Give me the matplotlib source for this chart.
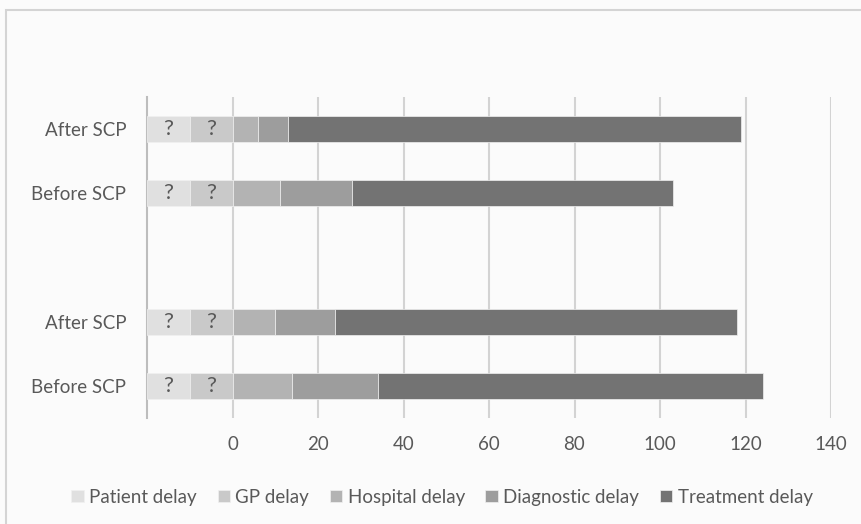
import matplotlib.pyplot as plt
from matplotlib.patches import Rectangle

# Delay components (days), rows from bottom to top; row 2 is an empty spacer
rows = ['Before SCP', 'After SCP', '', 'Before SCP', 'After SCP']
bar_rows = [0, 1, 3, 4]
patient_delay = [10, 10, 10, 10]      # unknown, drawn as fixed placeholders
gp_delay = [10, 10, 10, 10]           # unknown, drawn as fixed placeholders
hospital_delay = [14, 10, 11, 6]
diagnostic_delay = [20, 14, 17, 7]
treatment_delay = [90, 94, 75, 106]
unknown_label = '?'

series = ['Patient delay', 'GP delay', 'Hospital delay', 'Diagnostic delay', 'Treatment delay']
colors = ['#e0e0e0', '#c9c9c9', '#b3b3b3', '#9d9d9d', '#737373']
start = -20

plt.rcParams['font.family'] = ['Lato', 'DejaVu Sans']
text_color = '#595959'

fig = plt.figure(figsize=(8.62, 5.24), dpi=100, facecolor='#fbfbfb')
ax = fig.add_axes([147 / 862, 1 - 418 / 524, 684 / 862, 321 / 524])
ax.set_facecolor('#fbfbfb')

# outer chart border
fig.patches.append(Rectangle((6 / 862, -0.05), 1.0, 1 - 10 / 524 + 0.05,
                             transform=fig.transFigure, fill=False,
                             edgecolor='#d4d4d4', linewidth=1.5))

left = [start] * len(bar_rows)
for name, vals, c in zip(series,
                         [patient_delay, gp_delay, hospital_delay, diagnostic_delay, treatment_delay],
                         colors):
    bars = ax.barh(bar_rows, vals, left=left, height=0.41, color=c, label=name,
                   edgecolor='#f0f0f0', linewidth=0.5, zorder=3)
    if name in ('Patient delay', 'GP delay'):
        for b in bars:
            ax.text(b.get_x() + b.get_width() / 2, b.get_y() + b.get_height() / 2,
                    unknown_label, ha='center', va='center', fontsize=16,
                    color=text_color, zorder=4)
    left = [l + v for l, v in zip(left, vals)]

ax.set_xlim(-20, 140)
ax.set_ylim(-0.5, 4.5)
ax.set_xticks(range(0, 141, 20))
ax.set_yticks(range(len(rows)))
ax.set_yticklabels(rows)
ax.tick_params(axis='both', length=0, labelsize=13.5, colors=text_color)
ax.tick_params(axis='x', pad=13)
ax.tick_params(axis='y', pad=15)
ax.grid(axis='x', color='#d3d3d3', linewidth=1.5, zorder=0)

for side in ['top', 'right', 'bottom']:
    ax.spines[side].set_visible(False)
ax.spines['left'].set_color('#bdbdbd')
ax.spines['left'].set_linewidth(1.5)

fig.legend(loc='center', bbox_to_anchor=(442 / 862, 1 - 497 / 524), ncol=5,
           frameon=False, fontsize=13.5, labelcolor=text_color,
           handlelength=0.65, handleheight=0.65, handletextpad=0.3, columnspacing=1.1)

fig.savefig('out.png', dpi=100, facecolor=fig.get_facecolor())
